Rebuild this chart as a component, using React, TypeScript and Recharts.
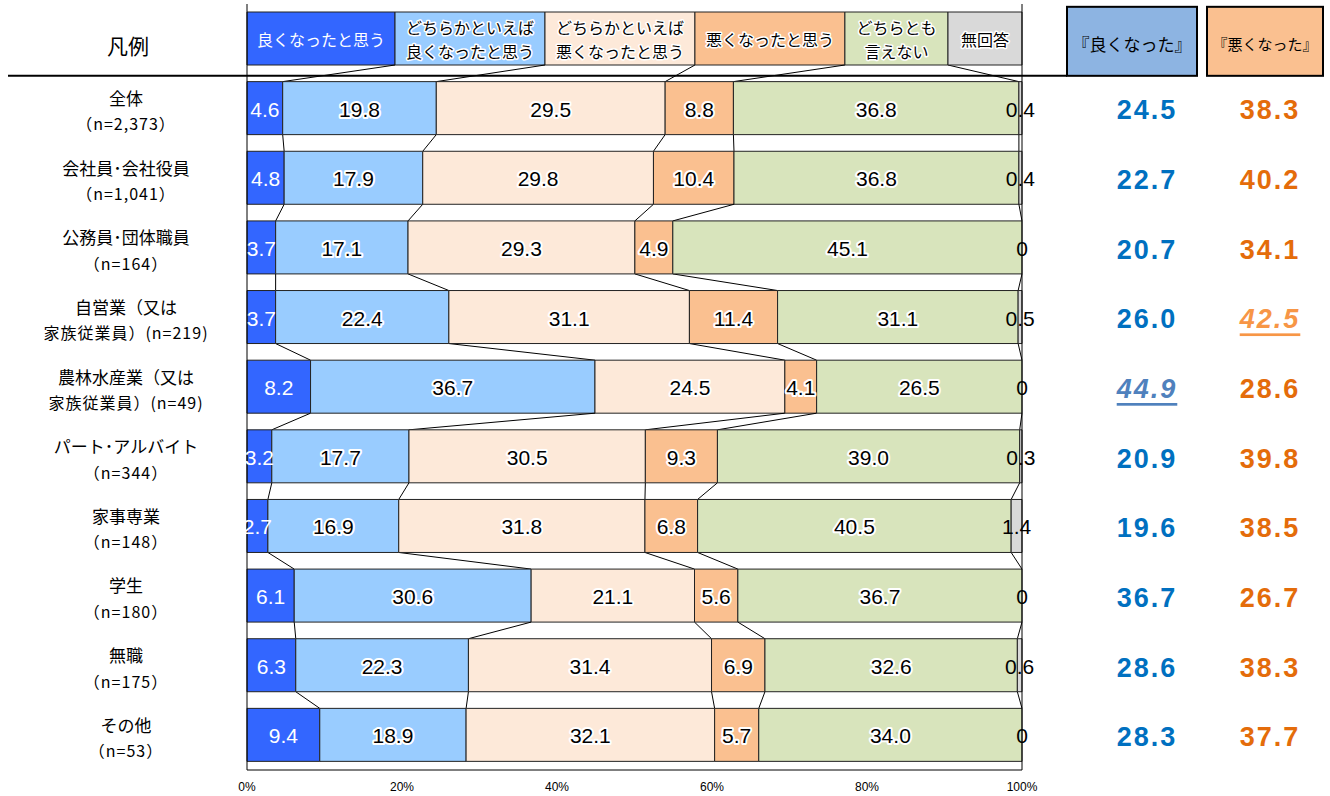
import React from "react";
import { BarChart, Bar, XAxis, YAxis, LabelList, ReferenceLine, Rectangle } from "recharts";

// row 0 is the legend row ("凡例"), the rest are the groups
const groupNames = [
  "凡例",
  "全体",
  "会社員･会社役員",
  "公務員･団体職員",
  "自営業（又は",
  "農林水産業（又は",
  "パート･アルバイト",
  "家事専業",
  "学生",
  "無職",
  "その他",
];
const groupSizes = [
  "",
  "（n=2,373）",
  "（n=1,041）",
  "（n=164）",
  "家族従業員）(n=219)",
  "家族従業員）(n=49)",
  "（n=344）",
  "（n=148）",
  "（n=180）",
  "（n=175）",
  "（n=53）",
];

const seriesNames = ["良くなったと思う", "どちらかといえば良くなったと思う", "どちらかといえば悪くなったと思う", "悪くなったと思う", "どちらとも言えない", "無回答"];
const legendLines = [
  ["良くなったと思う"],
  ["どちらかといえば", "良くなったと思う"],
  ["どちらかといえば", "悪くなったと思う"],
  ["悪くなったと思う"],
  ["どちらとも", "言えない"],
  ["無回答"],
];
// widths of the legend boxes, in % of the axis
const legendWidths = [19.1, 19.35, 19.35, 19.35, 13.3, 9.55];

const good = [4.6, 4.8, 3.7, 3.7, 8.2, 3.2, 2.7, 6.1, 6.3, 9.4];
const ratherGood = [19.8, 17.9, 17.1, 22.4, 36.7, 17.7, 16.9, 30.6, 22.3, 18.9];
const ratherBad = [29.5, 29.8, 29.3, 31.1, 24.5, 30.5, 31.8, 21.1, 31.4, 32.1];
const bad = [8.8, 10.4, 4.9, 11.4, 4.1, 9.3, 6.8, 5.6, 6.9, 5.7];
const neither = [36.8, 36.8, 45.1, 31.1, 26.5, 39.0, 40.5, 36.7, 32.6, 34.0];
const noAnswer = [0.4, 0.4, 0, 0.5, 0, 0.3, 1.4, 0, 0.6, 0];

const goodTotal = [24.5, 22.7, 20.7, 26.0, 44.9, 20.9, 19.6, 36.7, 28.6, 28.3];
const badTotal = [38.3, 40.2, 34.1, 42.5, 28.6, 39.8, 38.5, 26.7, 38.3, 37.7];

const colors = ["#3366ff", "#99ccff", "#fde9d9", "#fac090", "#d8e4bc", "#d9d9d9"];
const keys = ["s0", "s1", "s2", "s3", "s4", "s5"];
const series = [good, ratherGood, ratherBad, bad, neither, noAnswer];

const rows = groupNames.map((name, i) => {
  const row: any = { name, idx: i };
  keys.forEach((k, s) => {
    row[k] = i === 0 ? legendWidths[s] : series[s][i - 1];
  });
  return row;
});

const W = 1330;
const H = 796;
const MARGIN = { top: 4, right: 308, bottom: 0, left: 8 };
const YAXIS_W = 239;
const XAXIS_H = 26;
const PLOT_LEFT = MARGIN.left + YAXIS_W;
const PLOT_W = W - PLOT_LEFT - MARGIN.right;
const PLOT_H = H - MARGIN.top - MARGIN.bottom - XAXIS_H;
const PITCH = PLOT_H / rows.length;

const NUM_FONT = "'Liberation Sans Narrow', 'Liberation Sans', Arial, sans-serif";
const JP_FONT = "'Noto Sans CJK JP', 'Noto Sans', sans-serif";

const cumShare = (row: number, s: number) => {
  const vals = keys.map((k) => rows[row][k] as number);
  const total = vals.reduce((a, b) => a + b, 0);
  return vals.slice(0, s + 1).reduce((a, b) => a + b, 0) / total;
};

const makeShape = (s: number) => (props: any) => {
  const { x, y, width, height, index } = props;
  const left = props.background?.x ?? PLOT_LEFT;
  const span = props.background?.width ?? PLOT_W;
  const hasNext = index + 1 < rows.length && s < 5;
  return (
    <g>
      <Rectangle x={x} y={y} width={width} height={height} fill={colors[s]} stroke="#222" strokeWidth={1} />
      {hasNext && (
        <line
          x1={x + width}
          y1={y + height}
          x2={left + cumShare(index + 1, s) * span}
          y2={y + PITCH}
          stroke="#000"
          strokeWidth={1}
        />
      )}
    </g>
  );
};

const makeLabel = (s: number) => (props: any) => {
  const { x, y, width, height, value, index } = props;
  const cx = x + width / 2;
  const cy = y + height / 2;
  const white = s === 0;
  if (index === 0) {
    const lines = legendLines[s];
    return (
      <g>
        {lines.map((t, i) => (
          <text
            key={i}
            x={cx}
            y={cy + (lines.length === 1 ? 0 : i === 0 ? -12 : 12)}
            textAnchor="middle"
            dominantBaseline="central"
            fontFamily={JP_FONT}
            fontSize={16}
            fill={white ? "#fff" : "#000"}
            stroke={white ? "none" : "#fff"}
            strokeWidth={3}
            strokeLinejoin="round"
            style={{ paintOrder: "stroke" }}
          >
            {t}
          </text>
        ))}
      </g>
    );
  }
  const txt = value === 0 ? "0" : Number(value).toFixed(1);
  return (
    <text
      x={cx}
      y={cy + 1}
      textAnchor="middle"
      dominantBaseline="central"
      fontFamily={NUM_FONT}
      fontSize={21}
      fill={white ? "#fff" : "#000"}
      stroke={white || s === 5 ? "none" : "#fff"}
      strokeWidth={4}
      strokeLinejoin="round"
      style={{ paintOrder: "stroke" }}
    >
      {txt}
    </text>
  );
};

const RowTick = (props: any) => {
  const { y, index } = props;
  const labelX = 126;
  if (index === 0) {
    return (
      <g>
        <text x={labelX + 2} y={y + 6} textAnchor="middle" dominantBaseline="central" fontFamily={JP_FONT} fontSize={21} fill="#000">
          凡例
        </text>
        <line x1={8} x2={1067} y1={y + 37} y2={y + 37} stroke="#000" strokeWidth={2} />
        <rect x={1067} y={y - 32} width={130} height={69} fill="#8db4e2" stroke="#000" strokeWidth={2} />
        <text x={1132} y={y + 5} textAnchor="middle" dominantBaseline="central" fontFamily={JP_FONT} fontSize={17} fill="#000">
          『良くなった』
        </text>
        <rect x={1207} y={y - 32} width={116} height={69} fill="#fac090" stroke="#000" strokeWidth={2} />
        <text x={1265} y={y + 5} textAnchor="middle" dominantBaseline="central" fontFamily={JP_FONT} fontSize={15} fill="#000">
          『悪くなった』
        </text>
      </g>
    );
  }
  const i = index - 1;
  const gMax = goodTotal[i] === Math.max(...goodTotal);
  const bMax = badTotal[i] === Math.max(...badTotal);
  return (
    <g>
      <text x={labelX} y={y - 11} textAnchor="middle" dominantBaseline="central" fontFamily={JP_FONT} fontSize={17} fill="#000">
        {groupNames[index]}
      </text>
      <text
        x={labelX}
        y={y + 15}
        textAnchor="middle"
        dominantBaseline="central"
        fontFamily={JP_FONT}
        fontSize={16}
        letterSpacing={1}
        fill="#000"
      >
        {groupSizes[index]}
      </text>
      <text
        x={1147}
        y={y + 2}
        textAnchor="middle"
        dominantBaseline="central"
        fontFamily={NUM_FONT}
        fontSize={27}
        fontWeight="bold"
        letterSpacing={2}
        fontStyle={gMax ? "italic" : "normal"}
        textDecoration={gMax ? "underline" : "none"}
        fill={gMax ? "#4f81bd" : "#0070c0"}
      >
        {goodTotal[i].toFixed(1)}
      </text>
      <text
        x={1270}
        y={y + 2}
        textAnchor="middle"
        dominantBaseline="central"
        fontFamily={NUM_FONT}
        fontSize={27}
        fontWeight="bold"
        letterSpacing={2}
        fontStyle={bMax ? "italic" : "normal"}
        textDecoration={bMax ? "underline" : "none"}
        fill={bMax ? "#f79646" : "#e46c0a"}
      >
        {badTotal[i].toFixed(1)}
      </text>
    </g>
  );
};

export default function App() {
  return (
    <div style={{ position: "absolute", left: 0, top: 0, width: W, height: H, background: "#fff" }}>
      <BarChart width={W} height={H} data={rows} layout="vertical" stackOffset="expand" margin={MARGIN} barSize={53}>
        <XAxis
          type="number"
          domain={[0, 1]}
          ticks={[0, 0.2, 0.4, 0.6, 0.8, 1]}
          tickFormatter={(v) => `${Math.round(v * 100)}%`}
          height={XAXIS_H}
          axisLine={{ stroke: "#000" }}
          tickLine={false}
          tickSize={0}
          tickMargin={12}
          tick={{ fontFamily: NUM_FONT, fontSize: 12, fill: "#000" }}
        />
        <YAxis
          type="category"
          dataKey="name"
          width={YAXIS_W}
          axisLine={{ stroke: "#000" }}
          tickLine={false}
          tick={<RowTick />}
          interval={0}
        />
        {keys.map((k, s) => (
          <Bar key={k} dataKey={k} name={seriesNames[s]} stackId="a" fill={colors[s]} shape={makeShape(s)} isAnimationActive={false}>
            <LabelList dataKey={k} content={makeLabel(s)} />
          </Bar>
        ))}
        <ReferenceLine x={1} stroke="#000" strokeWidth={1} />
      </BarChart>
    </div>
  );
}
